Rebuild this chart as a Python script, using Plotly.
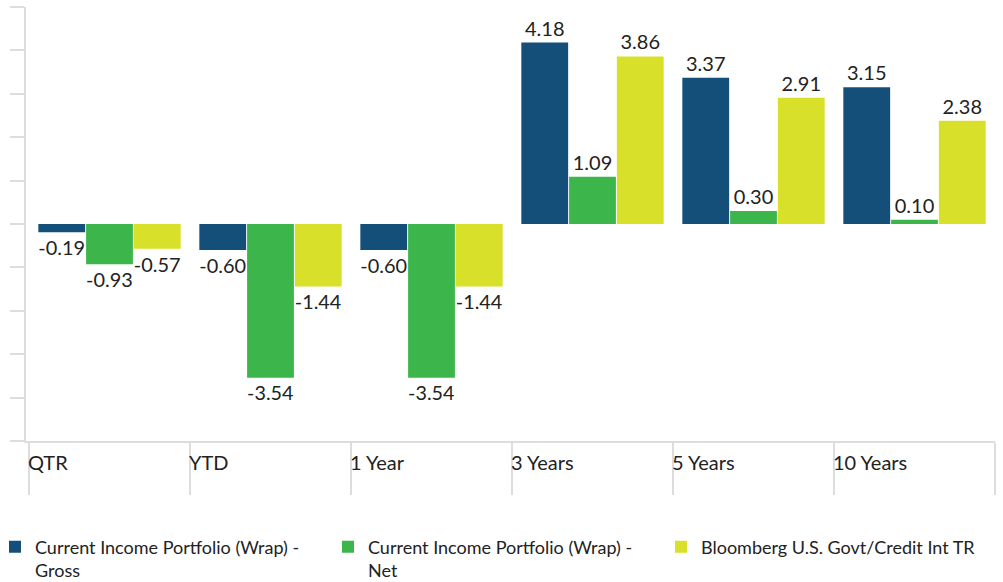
import plotly.graph_objects as go

categories = ["QTR", "YTD", "1 Year", "3 Years", "5 Years", "10 Years"]
gross = [-0.19, -0.60, -0.60, 4.18, 3.37, 3.15]
net = [-0.93, -3.54, -3.54, 1.09, 0.30, 0.10]
bench = [-0.57, -1.44, -1.44, 3.86, 2.91, 2.38]
series_names = [
    "Current Income Portfolio (Wrap) -<br>Gross",
    "Current Income Portfolio (Wrap) -<br>Net",
    "Bloomberg U.S. Govt/Credit Int TR",
]
colors = ["#134f79", "#3cb54a", "#d8e02a"]

FONT = "Lato, 'Open Sans', sans-serif"

fig = go.Figure()
for name, vals, col in zip(series_names, [gross, net, bench], colors):
    fig.add_trace(go.Bar(
        x=categories, y=vals, name=name, marker=dict(color=col, line=dict(width=0)),
        text=[f"{v:.2f}" for v in vals], textposition="outside",
        textfont=dict(family=FONT, size=20, color="#222222"),
        cliponaxis=False,
    ))

for i, c in enumerate(categories):
    fig.add_annotation(x=i - 0.5, y=0, xref="x", yref="paper", text=c, showarrow=False,
                       xanchor="left", yanchor="top", xshift=-3, yshift=-7,
                       font=dict(family=FONT, size=20, color="#222222"))

fig.update_layout(
    width=1003, height=582,
    margin=dict(l=26, r=8, t=7, b=141, autoexpand=False),
    paper_bgcolor="white", plot_bgcolor="white",
    barmode="group", bargap=0.11, bargroupgap=0.02,
    showlegend=True,
    legend=dict(orientation="h", x=-0.032, xanchor="left", y=-0.202, yanchor="top",
                entrywidth=288, entrywidthmode="pixels", valign="top",
                font=dict(family=FONT, size=18, color="#222222"),
                itemwidth=30, tracegroupgap=0),
    font=dict(family=FONT, color="#222222"),
)
fig.update_yaxes(range=[-5, 5], dtick=1, showticklabels=False, showgrid=False, zeroline=False,
                 showline=True, linecolor="#dddddd", linewidth=2,
                 ticks="outside", ticklen=14, tickcolor="#dddddd", tickwidth=2)
fig.update_xaxes(showticklabels=False, showgrid=False, zeroline=False,
                 showline=True, linecolor="#dddddd", linewidth=2,
                 ticks="outside", tickson="boundaries", ticklen=52, tickcolor="#dddddd", tickwidth=2)

fig.write_html("out.html", config={"displayModeBar": False},
               post_script="document.body.style.margin='0';")
